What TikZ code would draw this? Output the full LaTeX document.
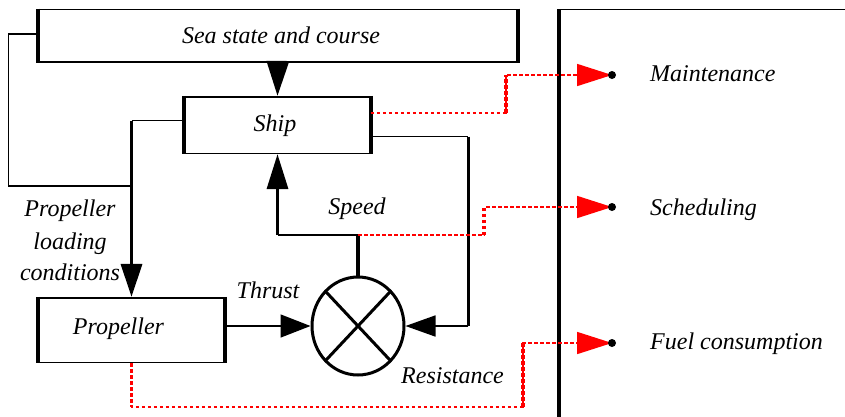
\documentclass[tikz,border=0pt]{standalone}
\usepackage{fontspec}
\setmainfont{Liberation Serif}
\usetikzlibrary{arrows.meta,shapes.geometric,calc}
\tikzset{
  lbl/.style={font=\fontsize{24}{31.5}\selectfont\itshape, inner sep=0pt},
  blk/.style={draw, rectangle, line width=1.6pt, inner sep=0pt},
  side/.style={line width=4pt},
  thk/.style={line width=3.3pt},
  thn/.style={line width=1.4pt},
  tipb/.style={-{Triangle[length=33pt,width=21pt]}},
  reddash/.style={red, line width=1.6pt, dash pattern=on 3.5pt off 2.5pt},
  redv/.style={red, line width=3.2pt, dash pattern=on 3.5pt off 2.5pt},
  redtip/.style={-{Triangle[length=35pt,width=22pt,red]}},
  dotm/.style={circle, fill=black, minimum size=8pt, inner sep=0pt},
}
\begin{document}
\begin{tikzpicture}[x=1pt,y=-1pt]
\useasboundingbox (0,0) rectangle (845,416);

% frame on the right
\draw[line width=1.3pt] (559,9.3) -- (846,9.3);
\draw[line width=3.3pt] (559,9.3) -- (559,417);

% blocks
\node[blk, minimum width=477.7pt, minimum height=52.4pt] (sea) at (277.85,35.5) {};
\draw[side] (sea.north west) -- (sea.south west);
\draw[side] (sea.north east) -- (sea.south east);
\node[lbl, anchor=base] (seat) at (281,43.3) {Sea state and course};

\node[blk, minimum width=185pt, minimum height=56.6pt] (ship) at (277.5,125) {};
\draw[side] (ship.north west) -- (ship.south west);
\draw[side] (ship.north east) -- (ship.south east);
\node[lbl, anchor=base] (shipt) at (275,131) {Ship};

\node[blk, minimum width=185pt, minimum height=64.6pt] (prop) at (131.5,330) {};
\draw[side] (prop.north west) -- (prop.south west);
\draw[side] (prop.north east) -- (prop.south east);
\node[lbl, anchor=base] (propt) at (118.5,334) {Propeller};

\node[ellipse, draw, line width=3pt, minimum width=92pt, minimum height=98pt, inner sep=0pt] (circ) at (358,326) {};
\draw[line width=3pt] ($(circ.center)+(-33.2,-35.4)$) -- ($(circ.center)+(33.2,35.4)$);
\draw[line width=3pt] ($(circ.center)+(33.2,-35.4)$) -- ($(circ.center)+(-33.2,35.4)$);

% labels
\node[lbl, anchor=base] (pl1) at (70,216.7) {Propeller};
\node[lbl, anchor=base] (pl2) at (70,249) {loading};
\node[lbl, anchor=base] (pl3) at (70,280) {conditions};
\node[lbl, anchor=base] (thr) at (268,298) {Thrust};
\node[lbl, anchor=base] (spd) at (357,214) {Speed};
\node[lbl, anchor=base] (res) at (452.5,383) {Resistance};
\node[lbl, anchor=base west] (tm) at (650,81.7) {Maintenance};
\node[lbl, anchor=base west] (ts) at (650,215) {Scheduling};
\node[lbl, anchor=base west] (tf) at (650,349.3) {Fuel consumption};

% coordinates
\coordinate (j1) at (131.5,186);
\coordinate (a1) at (131.5,120.7);
\coordinate (b1) at (468.3,136.7);
\coordinate (b2) at (468.3,326);
\coordinate (j2) at (358,235);
\coordinate (c2) at (277.5,235);
\coordinate (r1) at (506,112.7);
\coordinate (r2) at (506,75);
\coordinate (s1) at (484,235);
\coordinate (s2) at (484,207);
\coordinate (f1) at (131.5,406.7);
\coordinate (f2) at (523,406.7);
\coordinate (f3) at (523,343);
\coordinate (m1) at (612,75);
\coordinate (m2) at (612,207);
\coordinate (m3) at (612,343);

% black connectors
\draw[thk, -{Triangle[length=35pt,width=22pt]}] (sea.south) -- (ship.north);
\draw[thn] ([yshift=1.5pt]sea.west) -- ++(-29.7,0) |- (j1);
\draw[thn] ([yshift=4.3pt]ship.west) -- (a1);
\draw[thk, tipb] (a1) -- (prop.north);
\draw[thn] ([yshift=-11.7pt]ship.east) -- (b1);
\draw[thk] (b1) -- (b2);
\draw[line width=1.7pt, -{Triangle[length=30pt,width=21pt]}] (b2) -- (circ.east);
\draw[line width=1.5pt, -{Triangle[length=30pt,width=23pt]}] (prop.east |- circ.west) -- (circ.west);
\draw[thk] (circ.north) -- (j2);
\draw[thn] (j2) -- (c2);
\draw[thk, -{Triangle[length=35pt,width=21pt]}] (c2) -- (ship.south);

% red dotted connectors
\draw[reddash, redtip] ([yshift=12.3pt]ship.east) -- (r1) -- (r2) -- (m1);
\draw[redv] (r1) -- (r2);
\draw[reddash, redtip] (j2) -- (s1) -- (s2) -- (m2);
\draw[redv] (s1) -- (s2);
\draw[reddash, redtip] (prop.south) -- (f1) -- (f2) -- (f3) -- (m3);
\draw[redv] (prop.south) -- (f1);
\draw[redv] (f2) -- (f3);

% end dots
\node[dotm] (d1) at (m1) {};
\node[dotm] (d2) at (m2) {};
\node[dotm] (d3) at (m3) {};
\end{tikzpicture}
\end{document}
